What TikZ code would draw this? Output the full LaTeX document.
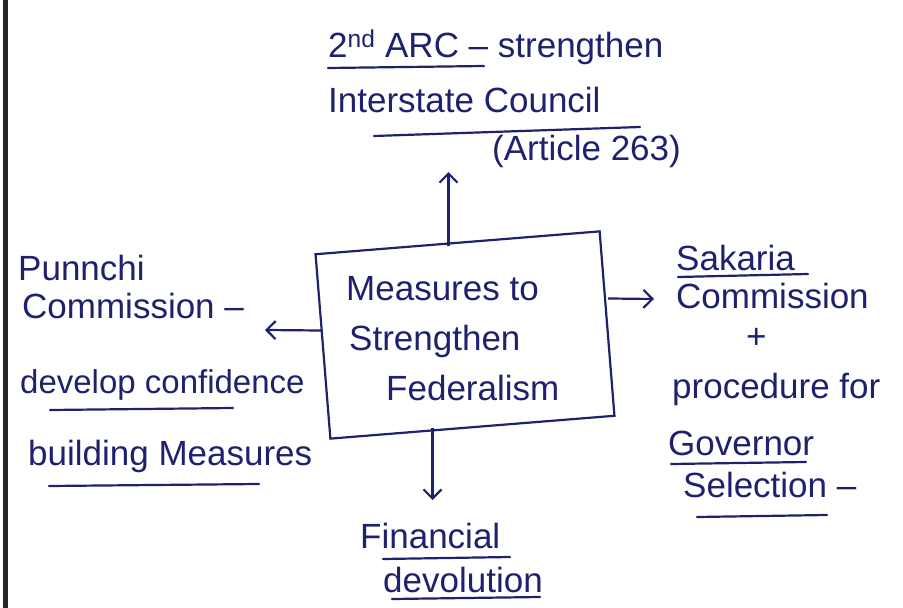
\documentclass[tikz,border=0pt]{standalone}
\usepackage{fontspec}
\setmainfont{Liberation Sans}
\usetikzlibrary{positioning,arrows.meta}
\definecolor{ink}{RGB}{30,34,110}

\begin{document}
\begin{tikzpicture}[x=1pt,y=-1pt,
  hand/.style={text=ink, font=\fontsize{35}{42}\selectfont, inner sep=0pt, anchor=base west},
  frame/.style={draw=ink, line width=2.2pt, minimum width=285pt, minimum height=185pt, rotate=4.6},
  arr/.style={draw=ink, line width=2.2pt, -{Straight Barb[length=9pt,width=18pt]}},
  uline/.style={draw=ink, line width=2.2pt, line cap=round}]

\useasboundingbox (0,0) rectangle (903,608);
\draw[line width=5pt, black!85] (5,0) -- (5,608);

% centre box
\node[frame] (box) at (465,335) {};
\node[hand] (m1) at (346,300) {Measures to};
\node[hand] (m2) at (349,350) {Strengthen};
\node[hand] (m3) at (386,400) {Federalism};

% top
\node[hand] (t1) at (328,57) {2\textsuperscript{nd} ARC \textendash{} strengthen};
\node[hand] (t2) at (328,112) {Interstate Council};
\node[hand] (t3) at (492,160) {(Article 263)};
\draw[uline] (328,68) -- (484,66);
\draw[uline] (374,136) -- (640,127);

% left
\node[hand] (l1) at (18,280) {Punnchi};
\node[hand] (l2) at (22,318) {Commission \textendash};
\node[hand, font=\fontsize{33}{40}\selectfont] (l3) at (20,393) {develop confidence};
\node[hand] (l4) at (28,465) {building Measures};
\draw[uline] (50,410) -- (233,408);
\draw[uline] (49,486) -- (259,484);

% right
\node[hand] (r1) at (676,270) {Sakaria};
\node[hand] (r2) at (676,308) {Commission};
\node[hand] (r3) at (746,348) {+};
\node[hand] (r4) at (672,398) {procedure for};
\node[hand] (r5) at (668,455) {Governor};
\node[hand] (r6) at (683,497) {Selection \textendash};
\draw[uline] (678,277) -- (808,274);
\draw[uline] (671,464) -- (806,462);
\draw[uline] (697,517) -- (827,515);

% bottom
\node[hand] (b1) at (360,548) {Financial};
\node[hand] (b2) at (383,592) {devolution};
\draw[uline] (383,559) -- (510,557);
\draw[uline] (392,599) -- (540,597);

% connectors
\coordinate (uptip) at (446,172);
\coordinate (lefttip) at (265,330);
\coordinate (righttip) at (654,299);
\coordinate (downtip) at (429,500);
\draw[arr] ([xshift=-9pt,yshift=-4pt]box.north) -- ([xshift=-9pt]box.north |- uptip);
\draw[arr] ([yshift=16pt]box.west) -- (lefttip);
\draw[arr] ([yshift=25pt]box.east) -- (righttip);
\draw[arr] ([xshift=-40pt]box.south) -- ([xshift=-40pt]box.south |- downtip);

\end{tikzpicture}
\end{document}
